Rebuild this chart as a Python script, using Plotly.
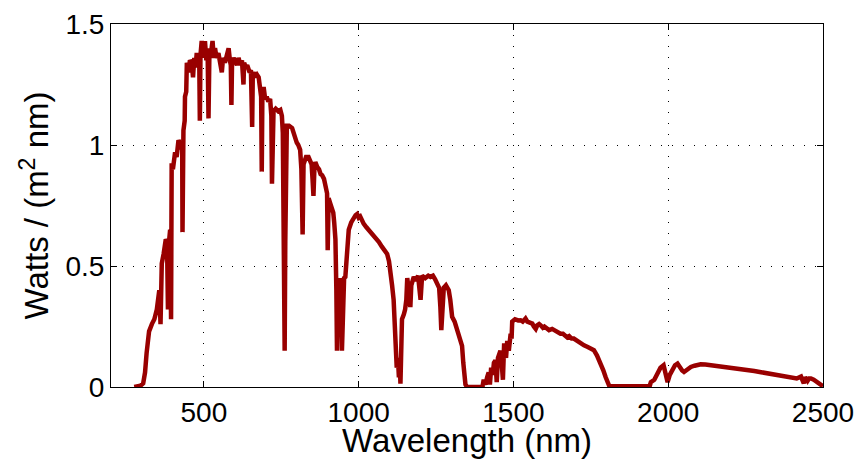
import plotly.graph_objects as go

wavelength_nm = [
    275, 295, 304, 310, 315, 323, 332, 340, 348, 352, 356, 360, 362, 364, 370, 377, 381, 384, 386, 391,
    394, 395, 396, 400, 407, 412, 418, 425, 430, 431, 433, 434, 438, 439, 443, 445, 450, 455, 461, 465,
    469, 473, 477, 482, 485, 487, 489, 493, 497, 500, 504, 508, 512, 515, 518, 522, 528, 532, 536, 541,
    547, 552, 558, 562, 568, 574, 580, 584, 587, 589, 591, 596, 601, 607, 612, 618, 623, 628, 630, 636,
    640, 644, 648, 652, 656, 658, 662, 667, 672, 677, 681, 685, 687, 689, 693, 698, 703, 708, 714, 718,
    720, 723, 725, 732, 740, 747, 752, 755, 758, 761, 763, 765, 768, 775, 785, 790, 795, 800, 805, 811,
    815, 819, 822, 830, 838, 843, 848, 851, 854, 857, 860, 866, 872, 877, 882, 888, 893, 898, 900, 903,
    908, 914, 918, 921, 925, 928, 930, 933, 936, 940, 943, 946, 950, 953, 957, 962, 968, 976, 984, 990,
    995, 1000, 1005, 1010, 1016, 1025, 1032, 1038, 1045, 1052, 1060, 1065, 1075, 1085, 1092, 1098, 1103,
    1108, 1113, 1116, 1119, 1123, 1127, 1130, 1133, 1135, 1137, 1140, 1146, 1150, 1154, 1157, 1162, 1167,
    1170, 1174, 1178, 1185, 1192, 1200, 1203, 1205, 1215, 1225, 1232, 1240, 1247, 1254, 1260, 1264, 1267,
    1270, 1273, 1275, 1282, 1291, 1296, 1302, 1310, 1317, 1324, 1330, 1334, 1338, 1342, 1345, 1350, 1400,
    1404, 1410, 1415, 1420, 1424, 1428, 1433, 1437, 1442, 1446, 1450, 1455, 1458, 1462, 1466, 1470, 1476,
    1480, 1485, 1491, 1494, 1496, 1505, 1515, 1523, 1530, 1539, 1545, 1552, 1561, 1566, 1572, 1577, 1583,
    1588, 1595, 1600, 1607, 1615, 1625, 1635, 1645, 1652, 1660, 1667, 1674, 1680, 1688, 1695, 1705, 1715,
    1728, 1740, 1750, 1760, 1770, 1782, 1790, 1798, 1805, 1810, 1940, 1944, 1955, 1965, 1975, 1985, 1992,
    1998, 2005, 2014, 2022, 2030, 2038, 2045, 2051, 2060, 2067, 2073, 2085, 2095, 2105, 2120, 2140, 2159,
    2180, 2200, 2224, 2240, 2260, 2278, 2300, 2320, 2332, 2350, 2370, 2386, 2400, 2415, 2429, 2434, 2438,
    2442, 2450, 2455, 2461, 2470, 2480, 2493, 2500,
]

irradiance = [
    0.0, 0.005, 0.015, 0.06, 0.14, 0.23, 0.26, 0.28, 0.32, 0.35, 0.40, 0.26, 0.42, 0.51, 0.55, 0.61, 0.60, 0.32, 0.58, 0.65,
    0.28, 0.70, 0.925, 0.90, 0.97, 0.95, 1.02, 1.00, 0.98, 0.64, 0.98, 1.06, 1.10, 1.20, 1.22, 1.34, 1.30, 1.35, 1.34, 1.28,
    1.36, 1.32, 1.38, 1.34, 1.36, 1.10, 1.37, 1.43, 1.36, 1.42, 1.42, 1.35, 1.40, 1.11, 1.39, 1.37, 1.43, 1.36, 1.40, 1.36,
    1.38, 1.35, 1.30, 1.36, 1.34, 1.37, 1.40, 1.35, 1.33, 1.165, 1.34, 1.36, 1.35, 1.33, 1.36, 1.33, 1.35, 1.25, 1.34, 1.32,
    1.33, 1.32, 1.30, 1.31, 1.075, 1.29, 1.30, 1.28, 1.29, 1.28, 1.25, 1.20, 0.89, 1.21, 1.24, 1.19, 1.20, 1.18, 1.19, 1.12,
    0.84, 1.10, 1.14, 1.15, 1.14, 1.145, 1.12, 1.05, 0.40, 0.15, 0.60, 1.05, 1.08, 1.08, 1.07, 1.05, 1.02, 1.01, 1.00, 0.98,
    0.90, 0.63, 0.92, 0.95, 0.95, 0.93, 0.92, 0.86, 0.79, 0.90, 0.93, 0.91, 0.90, 0.88, 0.875, 0.86, 0.83, 0.80, 0.565, 0.78,
    0.76, 0.74, 0.72, 0.68, 0.61, 0.40, 0.15, 0.35, 0.45, 0.30, 0.45, 0.15, 0.40, 0.45, 0.455, 0.55, 0.65, 0.68, 0.70, 0.71,
    0.715, 0.70, 0.705, 0.69, 0.675, 0.66, 0.65, 0.645, 0.63, 0.62, 0.607, 0.60, 0.58, 0.56, 0.55, 0.52, 0.48,
    0.42, 0.36, 0.25, 0.15, 0.08, 0.12, 0.04, 0.10, 0.014, 0.12, 0.28, 0.30, 0.32, 0.36, 0.45, 0.40, 0.33,
    0.42, 0.45, 0.455, 0.44, 0.46, 0.36, 0.44, 0.46, 0.45, 0.46, 0.455, 0.46, 0.445, 0.43, 0.41, 0.33, 0.235,
    0.30, 0.39, 0.41, 0.42, 0.40, 0.36, 0.29, 0.27, 0.24, 0.22, 0.19, 0.17, 0.10, 0.03, 0.01, 0.0, 0.0,
    0.03, 0.01, 0.04, 0.06, 0.01, 0.08, 0.05, 0.10, 0.11, 0.02, 0.12, 0.14, 0.15, 0.10, 0.03, 0.18, 0.12,
    0.19, 0.15, 0.22, 0.20, 0.27, 0.28, 0.275, 0.276, 0.27, 0.283, 0.27, 0.265, 0.262, 0.25, 0.24, 0.255, 0.26,
    0.255, 0.245, 0.25, 0.24, 0.235, 0.24, 0.232, 0.225, 0.22, 0.22, 0.215, 0.205, 0.21, 0.20, 0.20, 0.19, 0.18,
    0.172, 0.165, 0.16, 0.152, 0.13, 0.10, 0.07, 0.04, 0.015, 0.003, 0.003, 0.02, 0.03, 0.055, 0.08, 0.09, 0.06,
    0.02, 0.05, 0.07, 0.09, 0.097, 0.08, 0.068, 0.062, 0.07, 0.08, 0.083, 0.088, 0.092, 0.094, 0.093, 0.09, 0.086,
    0.083, 0.08, 0.076, 0.073, 0.07, 0.066, 0.061, 0.056, 0.052, 0.05, 0.045, 0.041, 0.039, 0.035, 0.043, 0.03, 0.015,
    0.04, 0.025, 0.035, 0.035, 0.03, 0.02, 0.01, 0.003,
]

x_ticks = [500, 1000, 1500, 2000, 2500]
y_ticks = [0, 0.5, 1, 1.5]
y_tick_text = ["0", "0.5", "1", "1.5"]

FONT = "Liberation Sans, Arial, Helvetica, sans-serif"

fig = go.Figure()
fig.add_trace(go.Scatter(
    x=wavelength_nm, y=irradiance, mode="lines",
    line=dict(color="#990000", width=4.5),
    showlegend=False,
))

axis_common = dict(
    showline=True, linecolor="black", linewidth=1, mirror="ticks",
    ticks="inside", ticklen=6, tickcolor="black", tickwidth=1,
    showgrid=True, gridcolor="black", gridwidth=1, griddash="1px,10px",
    zeroline=False, automargin=False,
    tickfont=dict(family=FONT, size=28, color="black"),
)

fig.update_xaxes(
    range=[200, 2500], tickvals=x_ticks,
    title=dict(text="Wavelength (nm)", font=dict(family=FONT, size=33, color="black"), standoff=5),
    **axis_common,
)
fig.update_yaxes(
    range=[0, 1.5], tickvals=y_ticks, ticktext=y_tick_text,
    title=dict(text="Watts / (m<sup>2</sup> nm)", font=dict(family=FONT, size=33, color="black"), standoff=6),
    **axis_common,
)

fig.update_layout(
    width=860, height=459,
    margin=dict(l=111, r=37, t=24, b=72),
    paper_bgcolor="white", plot_bgcolor="white",
    font=dict(family=FONT, color="black"),
)

fig.write_html("out.html")
